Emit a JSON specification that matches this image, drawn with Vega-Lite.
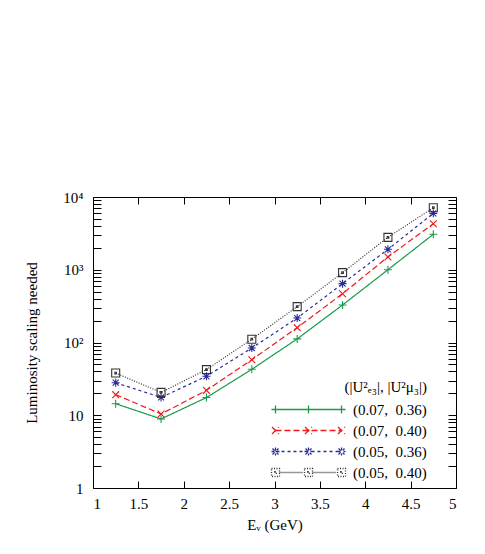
{
  "$schema": "https://vega.github.io/schema/vega-lite/v6.json",
  "width": 363,
  "height": 291,
  "autosize": {"type": "none"},
  "padding": {"left": 93, "top": 197, "right": 29, "bottom": 66},
  "background": "white",
  "config": {
    "view": {"stroke": "black", "strokeWidth": 1},
    "axis": {
      "labelFont": "Liberation Serif",
      "labelFontSize": 15,
      "labelColor": "black",
      "titleFont": "Liberation Serif",
      "titleFontSize": 15,
      "titleFontWeight": "normal",
      "titleColor": "black",
      "tickColor": "black",
      "tickWidth": 1,
      "domain": false,
      "grid": false,
      "labelOverlap": false
    },
    "legend": {
      "labelFont": "Liberation Serif",
      "labelFontSize": 15,
      "labelColor": "black",
      "titleFont": "Liberation Serif",
      "titleFontSize": 15,
      "titleFontWeight": "normal",
      "titleColor": "black"
    }
  },
  "data": {
    "values": [
      {"E": 1.25, "L": 14.4, "p": "(0.07, 0.36)"},
      {"E": 1.75, "L": 8.9, "p": "(0.07, 0.36)"},
      {"E": 2.25, "L": 17.5, "p": "(0.07, 0.36)"},
      {"E": 2.75, "L": 42.8, "p": "(0.07, 0.36)"},
      {"E": 3.25, "L": 112, "p": "(0.07, 0.36)"},
      {"E": 3.75, "L": 328, "p": "(0.07, 0.36)"},
      {"E": 4.25, "L": 1000, "p": "(0.07, 0.36)"},
      {"E": 4.75, "L": 3070, "p": "(0.07, 0.36)"},
      {"E": 1.25, "L": 19.2, "p": "(0.07, 0.40)"},
      {"E": 1.75, "L": 10.4, "p": "(0.07, 0.40)"},
      {"E": 2.25, "L": 22, "p": "(0.07, 0.40)"},
      {"E": 2.75, "L": 58, "p": "(0.07, 0.40)"},
      {"E": 3.25, "L": 160, "p": "(0.07, 0.40)"},
      {"E": 3.75, "L": 469, "p": "(0.07, 0.40)"},
      {"E": 4.25, "L": 1500, "p": "(0.07, 0.40)"},
      {"E": 4.75, "L": 4300, "p": "(0.07, 0.40)"},
      {"E": 1.25, "L": 28, "p": "(0.05, 0.36)"},
      {"E": 1.75, "L": 17.6, "p": "(0.05, 0.36)"},
      {"E": 2.25, "L": 34.3, "p": "(0.05, 0.36)"},
      {"E": 2.75, "L": 84, "p": "(0.05, 0.36)"},
      {"E": 3.25, "L": 217, "p": "(0.05, 0.36)"},
      {"E": 3.75, "L": 644, "p": "(0.05, 0.36)"},
      {"E": 4.25, "L": 1910, "p": "(0.05, 0.36)"},
      {"E": 4.75, "L": 5960, "p": "(0.05, 0.36)"},
      {"E": 1.25, "L": 38, "p": "(0.05, 0.40)"},
      {"E": 1.75, "L": 20.6, "p": "(0.05, 0.40)"},
      {"E": 2.25, "L": 42.4, "p": "(0.05, 0.40)"},
      {"E": 2.75, "L": 111, "p": "(0.05, 0.40)"},
      {"E": 3.25, "L": 311, "p": "(0.05, 0.40)"},
      {"E": 3.75, "L": 912, "p": "(0.05, 0.40)"},
      {"E": 4.25, "L": 2790, "p": "(0.05, 0.40)"},
      {"E": 4.75, "L": 7130, "p": "(0.05, 0.40)"}
    ]
  },
  "resolve": {
    "axis": {"x": "independent", "y": "independent"},
    "legend": {"color": "independent", "shape": "independent", "strokeDash": "independent"}
  },
  "layer": [
    {
      "mark": {"type": "line", "strokeWidth": 1.2},
      "encoding": {
        "x": {
          "field": "E", "type": "quantitative",
          "scale": {"domain": [1, 5], "nice": false, "zero": false},
          "axis": {
            "orient": "bottom",
            "offset": -7,
            "values": [1, 1.5, 2, 2.5, 3, 3.5, 4, 4.5, 5],
            "format": "~g",
            "tickSize": 7,
            "labelPadding": 8,
            "title": "Eᵥ (GeV)",
            "titleX": 181.5,
            "titleY": 43,
            "titleBaseline": "middle"
          }
        },
        "y": {
          "field": "L", "type": "quantitative",
          "scale": {"type": "log", "domain": [1, 10000], "nice": false},
          "axis": {
            "orient": "left",
            "offset": -8,
            "values": [1,2,3,4,5,6,7,8,9,10,20,30,40,50,60,70,80,90,100,200,300,400,500,600,700,800,900,1000,2000,3000,4000,5000,6000,7000,8000,9000,10000],
            "labelExpr": "datum.value == 1 ? '1' : datum.value == 10 ? '10' : datum.value == 100 ? '10²' : datum.value == 1000 ? '10³' : datum.value == 10000 ? '10⁴' : ''",
            "tickSize": 8,
            "labelPadding": 10,
            "title": "Luminosity scaling needed",
            "titleX": -70,
            "titleY": 145.5,
            "titleBaseline": "middle",
            "encode": {"ticks": {"update": {"x": {"signal": "indexof([1,10,100,1000,10000], datum.value) >= 0 ? 0 : -4"}}}}
          }
        },
        "color": {
          "field": "p", "type": "nominal",
          "scale": {
            "domain": ["(0.07, 0.36)", "(0.07, 0.40)", "(0.05, 0.36)", "(0.05, 0.40)"],
            "range": ["#1a9a4a", "#f01818", "#2a2a9a", "#333333"]
          },
          "legend": {
            "title": "(|U²ₑ₃|, |U²μ₃|)",
            "orient": "none",
            "legendX": 241,
            "legendY": 183,
            "titleAnchor": "end",
            "titlePadding": 7,
            "symbolSize": 100,
            "symbolStrokeWidth": 1,
            "rowPadding": 5,
            "labelOffset": 4,
            "labelExpr": "replace(datum.label, ', ', ',\u00a0 ')",
            "encode": {
              "symbols": {
                "update": {
                  "fill": {"value": "transparent"},
                  "opacity": {"value": 1},
                  "strokeOpacity": {"value": 1},
                  "strokeDash": {"value": []},
                  "strokeWidth": {"value": 1.3},
                  "size": {"value": 100},
                  "shape": {"signal": "datum.value == '(0.07, 0.36)' ? 'M-14,0L0.8,0M-13.2,-0.8L-13.2,0.8M-6.6,-0.8L-6.6,0.8M0,-0.8L0,0.8' : datum.value == '(0.07, 0.40)' ? 'M-13.2,0h1.2m0.6,0h1.2m0.6,0h1.2m0.6,0h1.2m0.6,0h1.2m0.6,0h1.2m0.6,0h1.2m0.6,0h0.6M-13.9,-0.7L-12.5,0.7M-13.9,0.7L-12.5,-0.7M-7.3,-0.7L-5.9,0.7M-7.3,0.7L-5.9,-0.7M-0.7,-0.7L0.7,0.7M-0.7,0.7L0.7,-0.7' : datum.value == '(0.05, 0.36)' ? 'M-13.2,0h0.6m0.6,0h0.6m0.6,0h0.6m0.6,0h0.6m0.6,0h0.6m0.6,0h0.6m0.6,0h0.6m0.6,0h0.6m0.6,0h0.6m0.6,0h0.6m0.6,0h0.6m0.6,0M-14,0L-12.4,0M-13.2,-0.8L-13.2,0.8M-13.8,-0.6L-12.6,0.6M-13.8,0.6L-12.6,-0.6M-7.4,0L-5.8,0M-6.6,-0.8L-6.6,0.8M-7.2,-0.6L-6,0.6M-7.2,0.6L-6,-0.6M-0.8,0L0.8,0M0,-0.8L0,0.8M-0.6,-0.6L0.6,0.6M-0.6,0.6L0.6,-0.6' : 'M-12.4,0h0.25m0.15,0h0.25m0.15,0h0.25m0.15,0h0.25m0.15,0h0.25m0.15,0h0.25m0.15,0h0.25m0.15,0h0.25m0.15,0h0.25m0.15,0h0.25m0.15,0h0.25m0.15,0h0.25m0.15,0M-5.8,0h0.25m0.15,0h0.25m0.15,0h0.25m0.15,0h0.25m0.15,0h0.25m0.15,0h0.25m0.15,0h0.25m0.15,0h0.25m0.15,0h0.25m0.15,0h0.25m0.15,0h0.25m0.15,0h0.25m0.15,0M-14,-0.8h1.6v1.6h-1.6ZM-13.35,-0.15h0.3v0.3h-0.3ZM-7.4,-0.8h1.6v1.6h-1.6ZM-6.75,-0.15h0.3v0.3h-0.3ZM-0.8,-0.8h1.6v1.6h-1.6ZM-0.15,-0.15h0.3v0.3h-0.3Z'"}
                }
              }
            }
          }
        },
        "strokeDash": {
          "field": "p", "type": "nominal",
          "scale": {
            "domain": ["(0.07, 0.36)", "(0.07, 0.40)", "(0.05, 0.36)", "(0.05, 0.40)"],
            "range": [[1, 0], [6, 3], [3, 3], [1, 1.5]]
          },
          "legend": null
        }
      }
    },
    {
      "mark": {"type": "point", "filled": false, "strokeWidth": 1.1, "size": 64, "opacity": 1},
      "encoding": {
        "x": {
          "field": "E", "type": "quantitative",
          "axis": {
            "orient": "top",
            "offset": -7,
            "values": [1, 1.5, 2, 2.5, 3, 3.5, 4, 4.5, 5],
            "labels": false,
            "tickSize": 7,
            "title": null
          }
        },
        "y": {
          "field": "L", "type": "quantitative",
          "axis": {
            "orient": "right",
            "offset": -8,
            "values": [1,2,3,4,5,6,7,8,9,10,20,30,40,50,60,70,80,90,100,200,300,400,500,600,700,800,900,1000,2000,3000,4000,5000,6000,7000,8000,9000,10000],
            "labels": false,
            "tickSize": 8,
            "title": null,
            "encode": {"ticks": {"update": {"x": {"signal": "indexof([1,10,100,1000,10000], datum.value) >= 0 ? 0 : 4"}}}}
          }
        },
        "color": {"field": "p", "type": "nominal", "legend": null},
        "shape": {
          "field": "p", "type": "nominal",
          "scale": {
            "domain": ["(0.07, 0.36)", "(0.07, 0.40)", "(0.05, 0.36)", "(0.05, 0.40)"],
            "range": [
              "M-1,0L1,0M0,-1L0,1",
              "M-0.85,-0.85L0.85,0.85M-0.85,0.85L0.85,-0.85",
              "M-1,0L1,0M0,-1L0,1M-0.75,-0.75L0.75,0.75M-0.75,0.75L0.75,-0.75",
              "M-1,-1L1,-1L1,1L-1,1ZM-0.2,-0.2L0.2,-0.2L0.2,0.2L-0.2,0.2Z"
            ]
          },
          "legend": null
        }
      }
    }
  ]
}
